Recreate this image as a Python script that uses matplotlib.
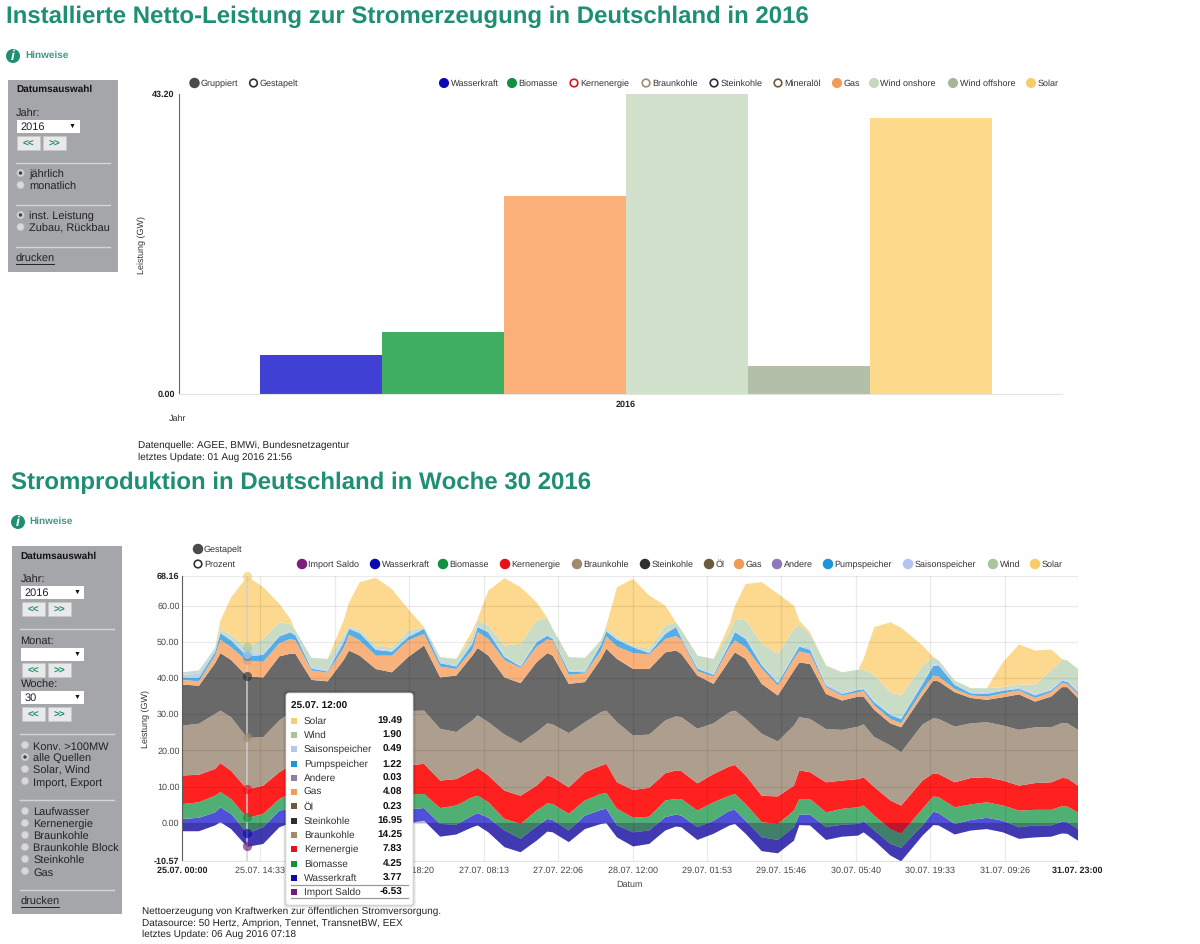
import numpy as np
import matplotlib
matplotlib.use("Agg")
import matplotlib.pyplot as plt
from matplotlib.patches import Circle, Rectangle, FancyBboxPatch

plt.rcParams['font.family'] = ['Liberation Sans', 'DejaVu Sans']
plt.rcParams['text.hinting'] = 'no_hinting'
plt.rcParams['text.hinting_factor'] = 1

# ---- upper chart: installed capacity 2016 (GW)
cap_names = ["Wasserkraft", "Biomasse", "Gas", "Wind onshore", "Wind offshore", "Solar"]
cap_values = [5.6, 8.95, 28.5, 43.2, 4.05, 39.7]
cap_colors = ["#4040d4", "#3fae60", "#fbb07a", "#d2e1cc", "#b2c0aa", "#fdd98c"]

# ---- lower chart: week 30, read about every 3 hours plus the daily peaks
# the chart is stacked on the import saldo, so these are the upper edges of each band (GW)
hours = [0, 3, 6, 7, 9, 12, 15, 18, 20, 21,
         24, 27, 30, 31, 33, 36, 39, 42, 45, 48,
         51, 54, 55, 57, 60, 63, 66, 68, 69, 72,
         75, 78, 79, 81, 84, 87, 90, 92, 93, 96,
         99, 102, 103, 105, 108, 111, 114, 115, 117, 120,
         123, 126, 127, 129, 132, 134, 138, 140, 141, 144,
         147, 150, 153, 156, 159, 162, 164, 165, 167]
import_saldo = [-2.2, -2.2, -0.6, 0.3, -1.6, -6.53, -5.7, -1.1, 0, 0,
                -1, -3, -1, 0, 0, -3, -3.5, 0, 0.7, -3.7,
                -3.1, -1.1, -0.6, -2.5, -6.6, -8, -4.8, -2.3, -2.5, -5.2,
                -1.6, -0.2, 0, -3.9, -6.4, -5.7, -2, -0.9, -1.1, -4.6,
                -2.9, -0.6, -0.2, -2.9, -7.7, -8.3, -4.8, -0.5, -0.6, -4.6,
                -3.7, -3.4, -2.5, -4.8, -8.9, -10.5, -3.4, -0.5, -0.6, -3.1,
                -2, -1.6, -2.5, -4.3, -3.9, -3.7, -2.8, -2.9, -4.8]
top_wasser = [1.2, 1.5, 3, 4.4, 2.6, -2.76, -1.1, 3.5, 4, 3.8,
              3, 1, 3, 4, 4, 1, 0.5, 3.8, 4.2, -0.2,
              -0.4, 2.1, 2.8, 1.5, -2, -4.3, -0.9, 1.2, 0.9, -2,
              2.1, 3.7, 4, -0.6, -2.5, -2, 1.7, 2.4, 2.1, -1.1,
              0.7, 3.5, 3.7, 0.7, -3.9, -4.6, -1.1, 2.4, 2.4, -1.1,
              -0.4, -0.2, 0.6, -2, -5.7, -6.8, -0.6, 3.2, 2.8, -0.2,
              0.9, 1.5, 0.7, -1.1, -0.6, -0.6, 0.4, 0.3, -1.6]
top_biomasse = [5.3, 5.8, 7.6, 8.6, 6.7, 1.49, 2.6, 6.7, 8, 8,
                7, 5, 7, 8.2, 8.2, 5, 4.5, 8, 8.1, 4.2,
                4.9, 7.2, 7.6, 5.8, 1.2, -0.2, 3.5, 5.5, 5.3, 2.6,
                6.3, 8.1, 8.3, 4, 1.5, 1.8, 6.3, 6.7, 6.7, 3.5,
                5.8, 7.6, 8.1, 5.3, 0.3, -0.2, 3.5, 6.7, 6.7, 3,
                4, 4.4, 4.9, 2.1, -1.6, -2.9, 4, 7.4, 7.2, 4.4,
                5.2, 5.8, 4.9, 3.5, 3.7, 3.7, 4.7, 4.6, 3]
top_kern = [13.2, 13.4, 15, 16.6, 14.5, 9.32, 10.4, 14.1, 16, 16,
            15, 13, 15, 16, 16, 13, 12.5, 16, 16.4, 11.8,
            12.2, 14.5, 15.3, 13.2, 9, 7.6, 10.4, 13.2, 12.7, 9.9,
            14.1, 15.9, 16.4, 11.3, 9.2, 9.8, 13.8, 14.6, 14.4, 11,
            13.6, 15.7, 16.1, 13.2, 7.6, 7.4, 10.4, 14.6, 14.1, 11.3,
            11.8, 12.2, 12.7, 10, 6.3, 4.9, 11.8, 13.8, 13.6, 11.3,
            12.5, 12.7, 11.8, 10.4, 11.1, 11.3, 12.5, 12.4, 10.4]
top_braun = [27, 27.5, 30.2, 31.1, 29.3, 23.57, 23.8, 28.4, 30.5, 30.5,
             29, 27, 29, 31, 31, 27, 26.5, 31, 31.1, 26.1,
             25.2, 28.4, 29.8, 27.9, 24.5, 22.1, 25.2, 27.6, 27.3, 24.9,
             27.9, 30.7, 31.1, 27.9, 24.2, 24.5, 28.4, 29.5, 29.3, 26.1,
             27.6, 30.7, 31.1, 28.8, 24.7, 22.6, 27, 29.3, 28.8, 26,
             25.8, 26.7, 27.3, 23.8, 21.5, 19.6, 27.3, 29, 28.8, 26.7,
             27.6, 27.9, 27, 25.8, 26.5, 26.5, 27.7, 27.6, 25.8]
top_stein = [38.3, 38, 44.2, 47, 45.1, 40.52, 40.3, 46.1, 46.8, 46.8,
             39.6, 39.2, 45.1, 47.7, 46.3, 42.6, 41.7, 45.9, 49.1, 40.3,
             40.8, 46.3, 48.4, 46.3, 40.3, 38.7, 44.5, 47, 46.3, 38.5,
             39, 45.4, 48.2, 45.4, 42.6, 42.6, 47.2, 47.7, 46.8, 40.8,
             38.5, 45.1, 47.2, 45.4, 38.5, 35.3, 42.2, 44.4, 44, 35.7,
             33.9, 35, 35, 31.3, 27.6, 26.5, 35.3, 39.4, 39.2, 36.2,
             34.6, 34.1, 34.8, 35.6, 33.6, 35, 37.6, 37.6, 34.6]
top_gas = [39.6, 39.2, 46.3, 50.7, 48.6, 44.83, 44.6, 49.7, 50.9, 50.5,
           42.2, 41.6, 48.4, 52.1, 50.5, 46.3, 46.3, 50.5, 52.3, 43.3,
           42.6, 47.9, 52.8, 50.9, 45.1, 42.9, 48.8, 50.8, 50.5, 41,
           41.4, 47.7, 51.6, 48.8, 47, 46.6, 50.9, 51.7, 50.7, 42,
           40.5, 48.6, 50.5, 48.6, 42.7, 38, 45.4, 47.5, 46.8, 37.6,
           35.3, 36.2, 36.5, 32.5, 28.8, 27.6, 36.7, 40.8, 40.5, 37.1,
           35.3, 35, 35.9, 36.7, 34.6, 36.2, 38.8, 38.5, 35.7]
top_pump = [40.3, 40.2, 47.2, 52.5, 50.5, 46.08, 46.5, 51.6, 52.7, 51.9,
            42.7, 41.9, 50, 53.7, 52.5, 47.9, 47.4, 51.4, 53.7, 44.2,
            43.3, 49.6, 54.2, 52.7, 45.9, 43.3, 50, 51.8, 50.9, 41.9,
            41.7, 49.3, 53, 50.7, 48.6, 47, 52.3, 54.2, 51.1, 42.7,
            41, 49.6, 52.8, 50.9, 43.6, 38.7, 46.3, 48.8, 47.9, 38,
            35.7, 36.8, 37, 33.4, 29.9, 28.8, 38.5, 43.5, 43.6, 38.2,
            35.9, 35.7, 36.6, 37.1, 35.3, 36.7, 39.3, 39.1, 36.2]
top_saison = [41, 41.3, 47.7, 53, 50.9, 46.57, 47, 52, 53, 52.3,
              43.1, 42.4, 50.9, 54, 52.8, 48.2, 47.7, 51.9, 54, 44.8,
              43.6, 50, 54.6, 53, 46.3, 43.6, 50.5, 52.2, 51.2, 42.2,
              42.2, 49.6, 53.2, 50.9, 48.8, 47.3, 52.8, 54.3, 51.4, 43.1,
              41.3, 50, 53, 51.4, 44, 39, 46.8, 49.1, 48.6, 38.5,
              36.2, 37.1, 37.3, 33.9, 30.2, 29.1, 39, 43.8, 44, 38.5,
              36.2, 36.2, 36.8, 37.6, 35.7, 37.1, 39.6, 39.4, 36.7]
top_wind = [41.7, 42.2, 48.4, 53.7, 51.9, 48.47, 51, 55.5, 55.1, 53.2,
            45.7, 45.4, 51.9, 54.3, 53.4, 49.1, 48.5, 53.2, 54.2, 45.9,
            45.4, 51.4, 56, 54.6, 49.1, 49.6, 56, 56.7, 53.7, 45.9,
            45.7, 50.5, 54, 51.4, 49.1, 48.2, 54.6, 55.5, 53.4, 46.3,
            45.4, 52.8, 56.5, 56, 49.6, 46.8, 53.7, 54.9, 52.3, 43.6,
            41.7, 42.4, 42.6, 40.8, 36.2, 35.3, 43.6, 45.9, 45, 39.4,
            37.3, 37.3, 37.6, 38.3, 38.3, 42.2, 45.1, 45, 42.6]
top_solar = [41.7, 42.2, 48.4, 56, 62.4, 68.16, 65.2, 60.6, 56.5, 53.2,
             45.7, 45.4, 56, 61, 66.6, 67.8, 64.7, 59.2, 54.2, 45.9,
             45.4, 53.2, 56.5, 64.3, 67.7, 65.2, 61, 56.7, 53.7, 45.9,
             45.7, 50.5, 54.6, 65.2, 67.5, 62.9, 60.1, 55.5, 53.4, 46.3,
             45.4, 55.1, 60.1, 66.1, 66.6, 63.4, 60.1, 56, 52.8, 43.6,
             41.7, 42.4, 45.4, 54.2, 55.5, 54, 49.1, 45.9, 45, 39.4,
             37.3, 37.3, 44.5, 49.4, 47.7, 48, 45.4, 45, 42.6]

week_yticks = [-10.57, 0, 10, 20, 30, 40, 50, 60, 68.16]
week_xticks = [0, 14.55, 28.43, 42.33, 56.22, 70.1, 84, 97.88, 111.77, 125.67, 139.55, 153.43, 167]
week_xlabels = ["25.07. 00:00", "25.07. 14:33", "", "26.07. 18:20", "27.07. 08:13", "27.07. 22:06",
                "28.07. 12:00", "29.07. 01:53", "29.07. 15:46", "30.07. 05:40", "30.07. 19:33", "31.07. 09:26",
                "31.07. 23:00"]

# tooltip at 25.07. 12:00
tip_names = ["Solar", "Wind", "Saisonspeicher", "Pumpspeicher", "Andere", "Gas", "Öl", "Steinkohle", "Braunkohle",
             "Kernenergie", "Biomasse", "Wasserkraft", "Import Saldo"]
tip_values = ["19.49", "1.90", "0.49", "1.22", "0.03", "4.08", "0.23", "16.95", "14.25", "7.83", "4.25", "3.77", "-6.53"]
tip_colors = ["#f6cd6f", "#a9c5a0", "#b4c6f2", "#1f94d8", "#8f7fa8", "#ee9c58", "#6b5a3e", "#2f2f2f", "#a08b6f",
              "#e8101a", "#0f9140", "#0a0ab0", "#6e1f78"]

W, H = 1200, 944
TEAL = "#1f8f73"
TXT = "#333333"
fig = plt.figure(figsize=(W / 100, H / 100), dpi=100)


def px_axes(x0, y0, x1, y1):
    return fig.add_axes([x0 / W, 1 - y1 / H, (x1 - x0) / W, (y1 - y0) / H])


# ---- bar chart
ax1 = px_axes(179, 94, 1062, 394)
xpos = np.arange(len(cap_values)) - 2.5
ax1.bar(xpos, cap_values, width=1.0, color=cap_colors)
ax1.set_xlim((179 - 626) / 122, (1062 - 626) / 122)
ax1.set_ylim(0, 43.2)
ax1.set_yticks([0, 43.2], ["0.00", "43.20"], fontweight="bold", fontsize=6.8, color="#222222")
ax1.set_xticks([0], ["2016"], fontweight="bold", fontsize=6.8, color="#222222")
ax1.tick_params(length=0, pad=3)
ax1.tick_params(axis="x", pad=4.5)
ax1.spines[["top", "right"]].set_visible(False)
ax1.spines["left"].set_color("#666666")
ax1.spines["bottom"].set_color("#e4e4e4")

# ---- stacked area chart
ax2 = px_axes(182.4, 576, 1077.5, 861)
edges = [import_saldo, top_wasser, top_biomasse, top_kern, top_braun, top_stein, top_gas, top_pump, top_saison,
         top_wind, top_solar]
band_colors = ["#5050d8", "#50b074", "#ff2020", "#ae9e8e", "#696969", "#fab27c", "#58aee2", "#bcd2f4",
               "#c9dcc5", "#fdd98f"]
for lo, up, c in zip(edges[:-1], edges[1:], band_colors):
    ax2.fill_between(hours, lo, up, color=c, lw=0)
# the import saldo lies over the stack, that is why everything below zero is darker
ax2.fill_between(hours, 0, import_saldo, color="#180050", alpha=0.28, lw=0)
ax2.set_xlim(0, 167)
ax2.set_ylim(-10.57, 68.16)
ax2.set_xticks(week_xticks, week_xlabels, fontsize=6.6, color="#444444")
ax2.set_yticks(week_yticks, ["%.2f" % v for v in week_yticks], fontsize=6.8, color="#444444")
for lab in [ax2.get_xticklabels()[0], ax2.get_xticklabels()[-1], ax2.get_yticklabels()[0], ax2.get_yticklabels()[-1]]:
    lab.set_fontweight("bold")
    lab.set_color("#222222")
ax2.tick_params(length=0, pad=2)
ax2.tick_params(axis="x", pad=4)
ax2.grid(True, color="#000000", alpha=0.08, lw=0.9)
ax2.set_axisbelow(False)
ax2.spines[["top", "right"]].set_visible(False)
ax2.spines["left"].set_color("#666666")
ax2.spines["bottom"].set_color("#e4e4e4")

# hover line and markers
hover = hours.index(12)
ax2.axvline(hours[hover], color="#d0d0d0", lw=1.3, alpha=0.8)
marker_colors = ["#6e1f78", "#0a0ab0", "#0f9140", "#e8101a", "#a08b6f", "#2f2f2f", "#ee9c58", "#1f94d8", "#b4c6f2",
                 "#a9c5a0", "#f6cd6f"]
for e, c in zip(edges, marker_colors):
    ax2.scatter(hours[hover], e[hover], s=44, color=c, alpha=0.65, lw=0, zorder=5, clip_on=False)

# ---- everything around the charts, in pixels of the page
ov = fig.add_axes([0, 0, 1, 1], zorder=10)
ov.set_xlim(0, W)
ov.set_ylim(H, 0)
ov.axis("off")
ov.patch.set_alpha(0)


def label(x, y, s, size=6.7, color=TXT, weight="normal", ha="left", **kw):
    return ov.text(x, y + 1, s, fontsize=size, color=color, fontweight=weight, ha=ha, va="center", **kw)


def dot(x, y, color, filled=True, r=4.4):
    ov.add_patch(Circle((x, y), r, facecolor=color if filled else "white", edgecolor=color, lw=1.2))


def info(x, y, tx):
    ov.add_patch(Circle((x, y), 7, facecolor=TEAL, edgecolor="none"))
    label(x, y - 1, "i", size=10, color="white", weight="bold", ha="center", style="italic")
    label(tx, y - 1.5, "Hinweise", size=7.2, color="#3f9a84", weight="bold")


def select(x, y0, y1, s):
    ov.add_patch(Rectangle((x, y0), 63, y1 - y0, facecolor="white", edgecolor="none"))
    label(x + 3.5, (y0 + y1) / 2 - 0.5, s, size=7.6, color="#222222")
    label(x + 56, (y0 + y1) / 2 - 1, "▼", size=4.8, color="#111111", ha="center")


def buttons(x, y0, y1):
    for bx, s in ((x, "<<"), (x + 26, ">>")):
        ov.add_patch(Rectangle((bx, y0), 23, y1 - y0, facecolor="#e9e9e9", edgecolor="#c8c8c8", lw=0.5))
        label(bx + 11.5, (y0 + y1) / 2 - 1, s, size=7, color=TEAL, weight="bold", ha="center")


def radio(x, y, tx, s, on=False):
    ov.add_patch(Circle((x, y), 3.6, facecolor="#d9d9d9", edgecolor="#c4c4c4", lw=0.5))
    if on:
        ov.add_patch(Circle((x, y), 1.8, facecolor="#444444", edgecolor="none"))
    label(tx, y + 1, s, size=7.6, color="#222222")


def sep(x0, x1, y):
    ov.plot([x0, x1], [y, y], color="#d5d5d5", lw=1)


def drucken(x, y):
    label(x, y, "drucken", size=7.6, color="#222222")
    ov.plot([x, x + 38], [y + 5.5, y + 5.5], color="#222222", lw=0.7)


# upper page part
label(6, 15.5, "Installierte Netto-Leistung zur Stromerzeugung in Deutschland in 2016", size=17.25, color=TEAL, weight="bold")
info(13, 56, 25)
ov.add_patch(Rectangle((8, 80), 110, 192, facecolor="#a5a6aa", edgecolor="none"))
label(16, 88.5, "Datumsauswahl", size=7.4, color="#111111", weight="bold")
label(16, 113, "Jahr:", size=7.6, color="#222222")
select(16.5, 120, 133, "2016")
buttons(17, 136, 150)
sep(16, 110, 163)
radio(20.5, 173, 29, "jährlich", True)
radio(20.5, 185, 29, "monatlich")
sep(16, 110, 205)
radio(20.5, 215, 29, "inst. Leistung", True)
radio(20.5, 227, 29, "Zubau, Rückbau")
sep(16, 110, 247)
drucken(16, 258)

dot(194.5, 83, "#4a4a4a")
label(200.5, 82.5, "Gruppiert")
dot(253.5, 83, "#333333", False, 3.8)
label(260, 82.5, "Gestapelt")
top_legend = [(444, "Wasserkraft", "#0a0ab0", True), (512, "Biomasse", "#0f9140", True),
              (574, "Kernenergie", "#d8181f", False), (646, "Braunkohle", "#a08b6f", False),
              (714, "Steinkohle", "#2f2f2f", False), (778, "Mineralöl", "#6b5a3e", False),
              (837, "Gas", "#f29a58", True), (874, "Wind onshore", "#c4d8bd", True),
              (953, "Wind offshore", "#a3b798", True), (1031, "Solar", "#f8cc6a", True)]
for x, s, c, filled in top_legend:
    dot(x, 83, c, filled, 4.2 if filled else 3.8)
    label(x + 6.5, 82.5, s)

label(142, 244, "Leistung (GW)", rotation=90, ha="center")
label(169, 417.5, "Jahr")
label(138, 444.5, "Datenquelle: AGEE, BMWi, Bundesnetzagentur", size=7.2, color="#222222")
label(138, 456, "letztes Update: 01 Aug 2016 21:56", size=7.2, color="#222222")

# lower page part
label(11, 481.5, "Stromproduktion in Deutschland in Woche 30 2016", size=17.25, color=TEAL, weight="bold")
info(18, 522, 29)
ov.add_patch(Rectangle((12, 546), 110, 368, facecolor="#a5a6aa", edgecolor="none"))
label(20.5, 555, "Datumsauswahl", size=7.4, color="#111111", weight="bold")
label(20.5, 579.5, "Jahr:", size=7.6, color="#222222")
select(21, 586, 599, "2016")
buttons(22, 602, 616)
sep(20, 114, 629)
label(20.5, 640.5, "Monat:", size=7.6, color="#222222")
select(21, 648, 661, "")
buttons(22, 663, 677)
label(20.5, 684.5, "Woche:", size=7.6, color="#222222")
select(21, 691, 704, "30")
buttons(22, 707, 721)
sep(20, 114, 734)
for y, s, on in [(746, "Konv. >100MW", False), (758, "alle Quellen", True), (770, "Solar, Wind", False),
                 (782, "Import, Export", False)]:
    radio(25, y - 1, 33, s, on)
sep(20, 114, 800)
for y, s in zip([812, 824, 836, 848, 860, 872],
                ["Laufwasser", "Kernenergie", "Braunkohle", "Braunkohle Block", "Steinkohle", "Gas"]):
    radio(25, y - 1, 33, s)
sep(20, 114, 890)
drucken(20.5, 901.5)

dot(198, 549, "#4a4a4a")
label(204, 548.5, "Gestapelt")
dot(198, 564, "#333333", False, 3.8)
label(204, 563.5, "Prozent")
week_legend = [(302, "Import Saldo", "#7a1f80"), (375, "Wasserkraft", "#0a0ab0"), (443, "Biomasse", "#0f9140"),
               (505, "Kernenergie", "#e8101a"), (577, "Braunkohle", "#a08b6f"), (645, "Steinkohle", "#2f2f2f"),
               (709, "Öl", "#6b5a3e"), (739, "Gas", "#f29a58"), (777, "Andere", "#8f78b8"),
               (828, "Pumpspeicher", "#1f94d8"), (908, "Saisonspeicher", "#b4c4f2"), (993, "Wind", "#a9c5a0"),
               (1035, "Solar", "#f8cc6a")]
for x, s, c in week_legend:
    dot(x, 564, c)
    label(x + 6.5, 563.5, s)

label(146, 718, "Leistung (GW)", rotation=90, ha="center")
label(630, 883.5, "Datum", ha="center", color="#444444")
label(142, 910.5, "Nettoerzeugung von Kraftwerken zur öffentlichen Stromversorgung.", size=7.1, color="#222222")
label(142, 922, "Datasource: 50 Hertz, Amprion, Tennet, TransnetBW, EEX", size=7.1, color="#222222")
label(142, 933.5, "letztes Update: 06 Aug 2016 07:18", size=7.1, color="#222222")

# tooltip
for grow, a in ((3, 0.05), (2, 0.07), (1, 0.09)):
    ov.add_patch(FancyBboxPatch((286 - grow, 693 - grow), 127 + 2 * grow, 212 + 2 * grow,
                                boxstyle="round,pad=0,rounding_size=4", facecolor="#000000", alpha=a, lw=0))
ov.add_patch(FancyBboxPatch((286, 693), 127, 212, boxstyle="round,pad=0,rounding_size=3",
                            facecolor="white", edgecolor="#e0e0e0", lw=0.6))
label(291, 705.5, "25.07. 12:00", size=7.2, color="#111111", weight="bold")
for i, (s, v, c) in enumerate(zip(tip_names, tip_values, tip_colors)):
    y = 720.7 + i * 14.28
    ov.add_patch(Rectangle((291, y - 3), 6, 6, facecolor=c, edgecolor="none"))
    label(304, y - 0.5, s, size=7.2, color="#333333")
    label(402, y - 0.5, v, size=7.2, color="#111111", weight="bold", ha="right")
ov.plot([291, 408], [885, 885], color="#999999", lw=0.9)
ov.plot([291, 408], [898, 898], color="#999999", lw=0.9)

fig.savefig("out.png", dpi=100)
